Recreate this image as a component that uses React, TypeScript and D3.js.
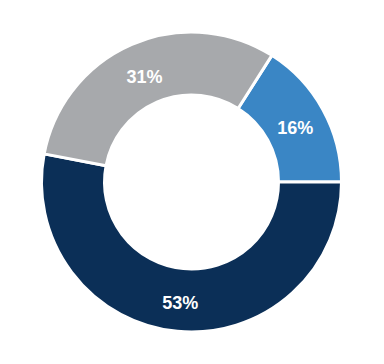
import React from "react";
import * as d3 from "d3";

const labels = ["16%", "53%", "31%"];
const values = [16, 53, 31];
const colors = ["#3a86c5", "#0b2f57", "#a7a9ac"];

export default function App() {
  const width = 384;
  const height = 364;
  const cx = 191.5;
  const cy = 182;
  const outer = 150;
  const inner = 87;
  const start = (32.4 * Math.PI) / 180;
  const pie = d3
    .pie<number>()
    .sort(null)
    .value((d) => d)
    .startAngle(start)
    .endAngle(start + 2 * Math.PI);
  const arcs = pie(values);
  const arc = d3.arc<d3.PieArcDatum<number>>().innerRadius(inner).outerRadius(outer);
  return (
    <svg width={width} height={height} style={{ position: "absolute", left: 0, top: 0 }}>
      <rect width={width} height={height} fill="#fff" />
      <g transform={`translate(${cx},${cy})`}>
        {arcs.map((a, i) => (
          <path key={i} d={arc(a) || ""} fill={colors[i]} stroke="#fff" strokeWidth={3} />
        ))}
        {arcs.map((a, i) => {
          const [x, y] = arc.centroid(a);
          return (
            <text
              key={"t" + i}
              x={x}
              y={y + 9.5}
              textAnchor="middle"
              fill="#fff"
              fontFamily="Liberation Sans, Arial, sans-serif"
              fontWeight="bold"
              fontSize={18}
            >
              {labels[i]}
            </text>
          );
        })}
      </g>
    </svg>
  );
}
